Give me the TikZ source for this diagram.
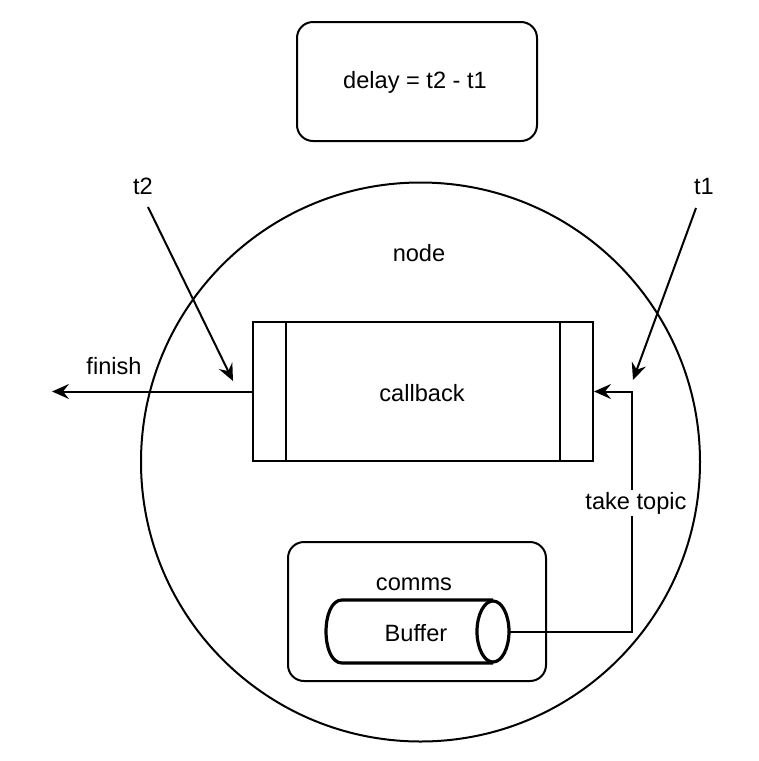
\documentclass[tikz,border=0pt]{standalone}
\usepackage{fontspec}
\setmainfont{Liberation Sans}
\usetikzlibrary{arrows.meta}
\newcommand{\dgFont}{\fontsize{23.6}{28}\selectfont}

\begin{document}
\begin{tikzpicture}[x=1pt,y=-1pt,
  line width=2pt,
  lbl/.style={inner sep=0pt, font=\dgFont},
  roundbox/.style={draw, rounded corners=16pt, inner sep=0pt},
  flow/.style={-{Stealth[length=17pt,width=15pt,inset=6pt]}}]
\useasboundingbox (0,0) rectangle (759,761);
% frames
\node[roundbox, minimum width=240pt, minimum height=119pt] (delaybox) at (417,81.5) {};
\node[lbl] (delaylbl) at (415,82) {delay = t2 - t1};
\node[draw, circle, minimum size=559pt, inner sep=0pt] (nodecircle) at (420.5,462) {};
\node[lbl] (nodelbl) at (419,253) {node};
\node[draw, minimum width=340pt, minimum height=139pt, inner sep=0pt] (callback) at (423,391.5) {};
\draw ([xshift=34pt]callback.north west) -- ([xshift=34pt]callback.south west);
\draw ([xshift=-34pt]callback.north east) -- ([xshift=-34pt]callback.south east);
\node[lbl] (callbacklbl) at (422,393) {callback};
\node[roundbox, minimum width=258pt, minimum height=139pt] (comms) at (417,611.5) {};
\node[lbl] (commslbl) at (414,584) {comms};
% buffer cylinder
\node[minimum width=181pt, minimum height=61pt, inner sep=0pt] (buffer) at (417.5,631.5) {};
\draw[line width=3.2pt, line join=round]
  ([xshift=-16pt]buffer.south east) -- ([xshift=16pt]buffer.south west)
  .. controls ([xshift=-5.3pt]buffer.south west) and ([xshift=-5.3pt]buffer.north west)
  .. ([xshift=16pt]buffer.north west) -- ([xshift=-16pt]buffer.north east);
\draw[line width=3.2pt] ([xshift=-16pt]buffer.east) ellipse [x radius=16pt, y radius=30.5pt];
\node[lbl] (bufferlbl) at (416,633) {Buffer};
% timestamps
\node[lbl] (t2lbl) at (143,186) {t2};
\node[lbl] (t1lbl) at (704,186) {t1};
\coordinate (t2start) at (148,207);
\coordinate (t1start) at (696,208);
\coordinate (t2tip) at (233,381);
\coordinate (t1tip) at (633,380);
\draw[flow] (t2start) -- (t2tip);
\draw[flow] (t1start) -- (t1tip);
% output
\coordinate (finishend) at (52,391.5);
\draw[flow] (callback.west) -- (finishend);
\node[lbl] (finishlbl) at (114,366) {finish};
% input
\coordinate (bend) at (632,391.5);
\draw[flow] (buffer.east) -| (bend) -- (callback.east);
\node[lbl, fill=white, inner sep=2pt] (topiclbl) at (636,503) {take topic};
\end{tikzpicture}
\end{document}
